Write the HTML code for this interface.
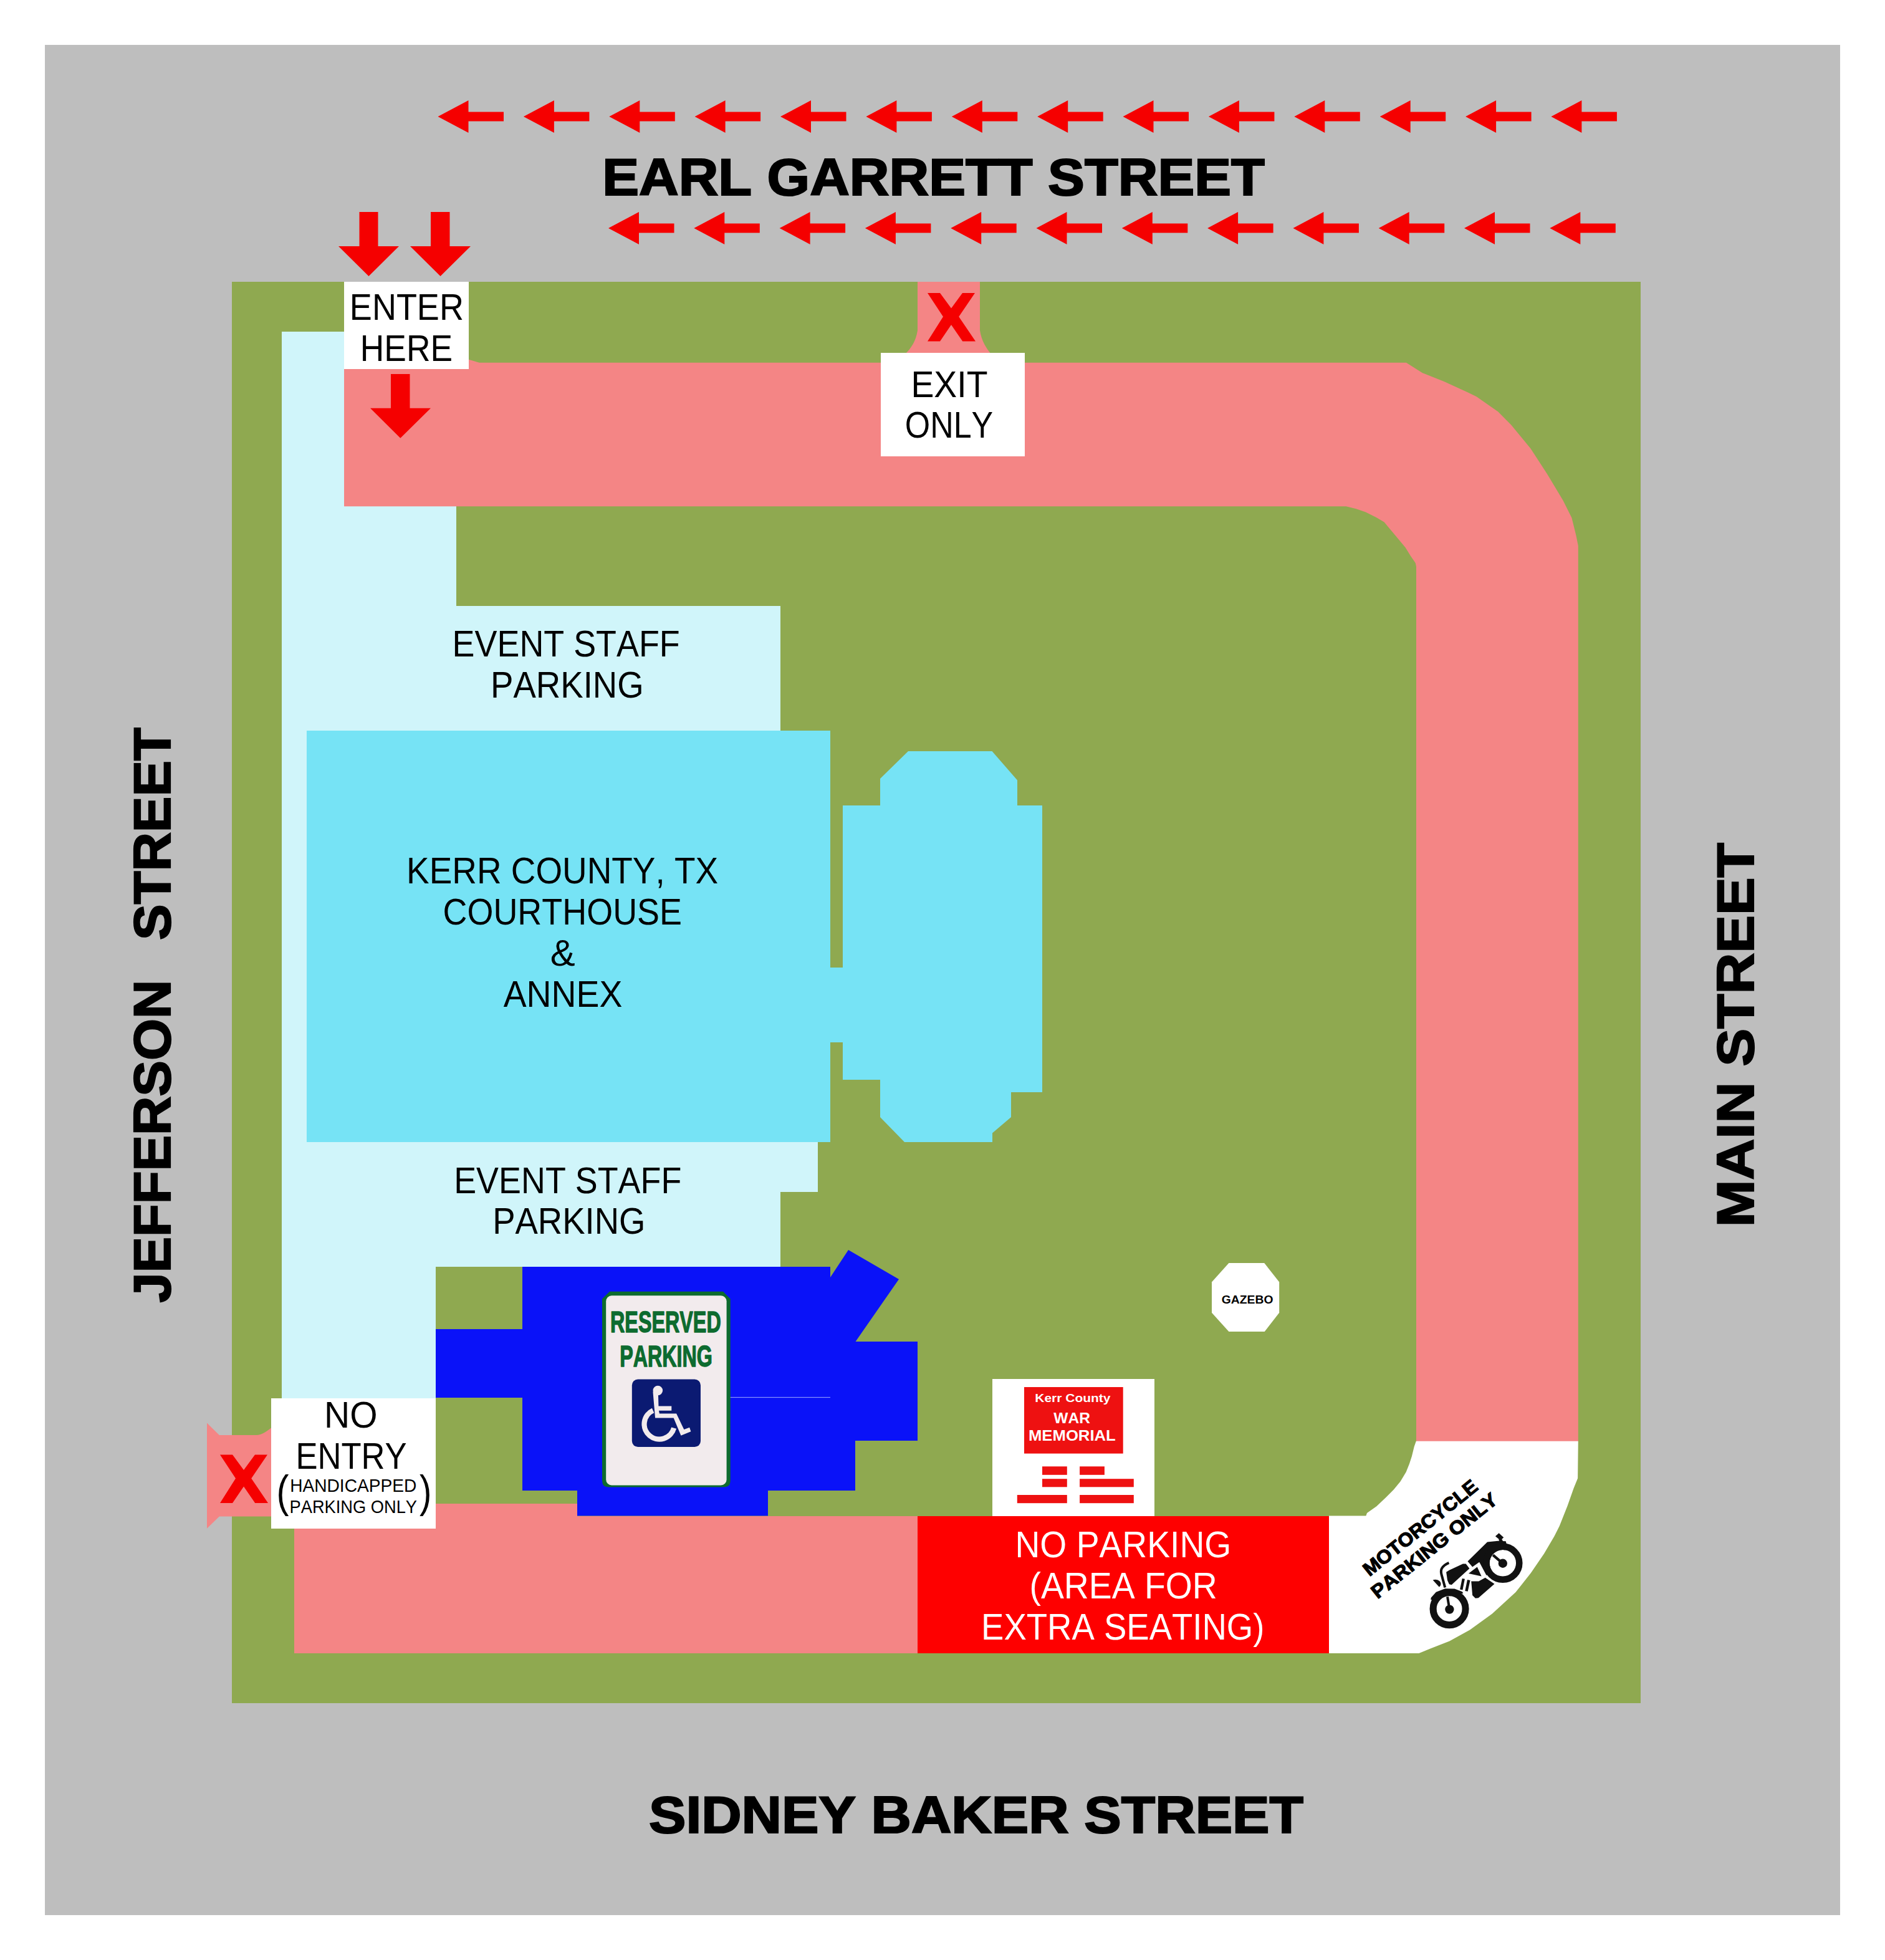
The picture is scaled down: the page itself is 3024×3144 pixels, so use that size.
<!DOCTYPE html>
<html><head><meta charset="utf-8"><title>Map</title>
<style>
html,body{margin:0;padding:0;background:#fff;overflow:hidden;}
svg{display:block;}
text{font-family:"Liberation Sans",sans-serif;font-kerning:none;}
</style></head>
<body>
<svg width="3024" height="3144" viewBox="0 0 3024 3144">
<rect x="0" y="0" width="3024" height="3144" fill="#ffffff"/>
<!-- gray streets -->
<rect x="72" y="72" width="2880" height="3000" fill="#bebebe"/>
<!-- green block -->
<rect x="372" y="452" width="2260" height="2280" fill="#8fa950"/>
<!-- light cyan parking -->
<path id="lcyan" fill="#d0f5fa" d="M452,532 H552 V812 H732 V972 H1252 V1832 H1312 V1912 H1252 V2032 H699 V2243 H452 Z"/>
<!-- pink road top/right -->
<path id="pinkroad" fill="#f48585" d="M552,581.7 L752,581.7 L752,576.7 L769,581.7 L2256,581.7 L2282,598.2 L2316.7,612 L2354.9,629.4 L2368.7,636.3 L2403.4,660.6 L2424.2,681.4 L2455.5,719.6 L2481.5,759.4 L2507.5,802.8 L2521.4,830.6 L2528.3,858.3 L2531.8,875.6 V2312 H2272 L2272,908.8 L2270.7,902.9 L2263.1,891.9 L2254.6,878.3 L2241.9,863 L2229.1,847.7 L2220.6,837.5 L2207.9,829.9 L2190.9,821.4 L2175.7,816.3 L2159.5,812.2 H552 Z"/>
<!-- exit neck -->
<path fill="#f48585" d="M1472,452 H1572 V530 C1575,548 1582,558 1590,568 H1452 C1462,558 1469,548 1472,530 Z"/>
<!-- pink bottom road -->
<path fill="#f48585" d="M472,2412 H926 V2432 H2132 V2652 H472 Z"/>
<!-- no entry ribbon -->
<path fill="#f48585" d="M332,2282.6 L351.8,2302.1 H411 C420,2302 428,2296 435,2290.5 V2432.6 H351.8 L332,2451.7 Z"/>
<!-- building -->
<rect x="492" y="1172" width="840" height="660" fill="#76e3f5"/>
<rect x="1332" y="1552" width="20" height="120" fill="#76e3f5"/>
<path fill="#76e3f5" d="M1352,1292 H1412 V1249 L1457,1205 H1591.5 L1632,1251.5 V1292 H1672 V1752 H1622 V1792 L1592,1817.5 V1832 H1451 L1412,1792 V1732 H1352 Z"/>
<!-- blue handicapped -->
<path fill="#0a12f8" d="M838,2032 H1332 V2049 L1361,2005 L1442,2052 L1372.5,2152 H1472 V2311 H1372 V2391 H1232 V2431.5 H926 V2391 H838 V2242 H699 V2132 H838 Z"/>
<!-- red no parking -->
<rect x="1472" y="2432" width="660" height="220" fill="#fe0000"/>
<!-- motorcycle white -->
<path fill="#ffffff" d="M2272,2311.8 H2531.8 L2531.1,2371.2 L2524.5,2387.6 L2514.7,2415.3 L2501.7,2448 L2493.5,2464.3 L2477.2,2492.1 L2456,2523.1 L2431.5,2554.1 L2393.9,2588.4 L2358,2614.5 L2325.3,2632.5 L2295.9,2643.9 L2276.3,2652 H2132 V2431.5 L2191.4,2431.5 L2193,2427 L2208.3,2416.2 L2223.6,2401.7 L2235.8,2389.5 L2246.5,2376.5 L2255.7,2361.2 L2261,2348.1 L2264.9,2335.9 L2268.7,2320.6 L2271.8,2311.8 Z"/>
<!-- white label boxes -->
<rect x="552" y="452" width="200" height="140" fill="#ffffff"/>
<rect x="1413" y="566" width="231" height="166" fill="#ffffff"/>
<rect x="435" y="2243" width="264" height="209" fill="#ffffff"/>
<rect x="1592" y="2212" width="260" height="220" fill="#ffffff"/>
<!-- gazebo -->
<path fill="#ffffff" d="M1971.4,2026 H2028.2 L2052.2,2056.5 V2105.7 L2028.7,2136 H1971.4 L1944,2105.7 V2056.5 Z"/>
<!-- arrows -->
<path fill="#f50000" d="M702.5,187 L751.5,161 V179.5 H808.0 V194.5 H751.5 V213 Z M839.9,187 L888.9,161 V179.5 H945.4 V194.5 H888.9 V213 Z M977.3,187 L1026.3,161 V179.5 H1082.8 V194.5 H1026.3 V213 Z M1114.6,187 L1163.6,161 V179.5 H1220.1 V194.5 H1163.6 V213 Z M1252.0,187 L1301.0,161 V179.5 H1357.5 V194.5 H1301.0 V213 Z M1389.4,187 L1438.4,161 V179.5 H1494.9 V194.5 H1438.4 V213 Z M1526.8,187 L1575.8,161 V179.5 H1632.3 V194.5 H1575.8 V213 Z M1664.2,187 L1713.2,161 V179.5 H1769.7 V194.5 H1713.2 V213 Z M1801.5,187 L1850.5,161 V179.5 H1907.0 V194.5 H1850.5 V213 Z M1938.9,187 L1987.9,161 V179.5 H2044.4 V194.5 H1987.9 V213 Z M2076.3,187 L2125.3,161 V179.5 H2181.8 V194.5 H2125.3 V213 Z M2213.7,187 L2262.7,161 V179.5 H2319.2 V194.5 H2262.7 V213 Z M2351.1,187 L2400.1,161 V179.5 H2456.6 V194.5 H2400.1 V213 Z M2488.4,187 L2537.4,161 V179.5 H2593.9 V194.5 H2537.4 V213 Z M976.0,366 L1025.0,340 V358.5 H1081.5 V373.5 H1025.0 V392 Z M1113.3,366 L1162.3,340 V358.5 H1218.8 V373.5 H1162.3 V392 Z M1250.6,366 L1299.6,340 V358.5 H1356.1 V373.5 H1299.6 V392 Z M1387.9,366 L1436.9,340 V358.5 H1493.4 V373.5 H1436.9 V392 Z M1525.2,366 L1574.2,340 V358.5 H1630.7 V373.5 H1574.2 V392 Z M1662.5,366 L1711.5,340 V358.5 H1768.0 V373.5 H1711.5 V392 Z M1799.8,366 L1848.8,340 V358.5 H1905.3 V373.5 H1848.8 V392 Z M1937.1,366 L1986.1,340 V358.5 H2042.6 V373.5 H1986.1 V392 Z M2074.4,366 L2123.4,340 V358.5 H2179.9 V373.5 H2123.4 V392 Z M2211.7,366 L2260.7,340 V358.5 H2317.2 V373.5 H2260.7 V392 Z M2349.0,366 L2398.0,340 V358.5 H2454.5 V373.5 H2398.0 V392 Z M2486.3,366 L2535.3,340 V358.5 H2591.8 V373.5 H2535.3 V392 Z"/>
<path fill="#f50000" d="M576.5,340 H606.5 V395 H640 L591.5,443 L543,395 H576.5 Z"/>
<path fill="#f50000" d="M691,340 H721.5 V395 H755 L706.5,443 L658,395 H691 Z"/>
<path fill="#f50000" d="M627,600 H657.5 V654.7 H691 L642.3,702.7 L594,654.7 H627 Z"/>
<!-- X marks -->
<path fill="#f50000" transform="translate(1488,470)" d="M0,0 H20 L38,24.4 L56,0 H76 L50.2,38 L77,77.6 H56.2 L38,51 L20,77.6 H0 L25,38 Z"/>
<path fill="#f50000" transform="translate(353,2333.5)" d="M0,0 H20 L38,24.4 L56,0 H76 L50.2,38 L77,77.6 H56.2 L38,51 L20,77.6 H0 L25,38 Z"/>
<rect x="1171" y="2240.9" width="161" height="1.2" fill="#8a94ff"/>
<!-- reserved parking sign -->
<path fill="#0d6b2f" d="M978,2071.8 H1160 L1171.7,2083.5 V2375 Q1171.7,2385.5 1161,2385.5 H976 Q966,2385.5 966,2375 V2083.5 Z"/>
<rect x="972.2" y="2078.3" width="193.4" height="304.2" rx="9" fill="#f2ebed"/>
<g transform="translate(1010,2208) scale(0.063662)">
<rect x="60" y="70" width="1730" height="1705" rx="150" fill="#0b1a72"/>
<g fill="#f2ebed">
<circle cx="712" cy="352" r="122"/>
<path d="M588,380 L645,1045 L1110,1045 L1295,1490 L1545,1385 L1510,1285 L1372,1337 L1180,935 L752,935 L738,860 L1057,860 L1057,745 L730,745 L722,470 Z"/>
</g>
<path d="M591.2,854.8 A380,380 0 1 0 1117,1298.4" fill="none" stroke="#f2ebed" stroke-width="130"/>
</g>
<!-- war memorial -->
<rect x="1643" y="2225" width="158.7" height="106.6" fill="#ee1111"/>
<g fill="#ee1111">
<rect x="1672" y="2352.3" width="39.8" height="13.5"/>
<rect x="1732.1" y="2352.3" width="39.8" height="13.5"/>
<rect x="1672" y="2372.2" width="39.8" height="13.1"/>
<rect x="1732.1" y="2372.2" width="86.7" height="13.1"/>
<rect x="1631.8" y="2398" width="80" height="13.2"/>
<rect x="1732.1" y="2398" width="86.7" height="13.2"/>
</g>
<!-- motorcycle icon -->
<g transform="translate(2280,2450) scale(0.09551)" fill="#111">
<circle cx="472" cy="1368" r="272" fill="none" stroke="#111" stroke-width="116"/>
<circle cx="475" cy="1378" r="75"/>
<path d="M475,1378 L440,1165" stroke="#111" stroke-width="42" fill="none"/>
<path d="M160,1215 L165,1180 L250,1085 L400,1028 L560,1030 L690,1080 L705,1110 L600,1120 L470,1110 L300,1150 L200,1220 Z"/>
<path d="M780,570 L1110,245 L1290,228 L1420,232 L1435,285 L1370,600 L1000,600 L975,585 L860,665 Z"/>
<path d="M975,580 L1095,805 L1370,600 Z"/>
<circle cx="1370" cy="600" r="222" fill="#fff"/>
<circle cx="1370" cy="600" r="277" fill="none" stroke="#111" stroke-width="110"/>
<circle cx="1370" cy="605" r="75"/>
<path d="M1370,605 L1205,465" stroke="#111" stroke-width="45" fill="none"/>
<path d="M1245,150 L1305,98 L1385,170 L1330,220 Z"/>
<path d="M1300,205 L1345,185 L1375,235 L1320,250 Z"/>
<path d="M795,775 L940,665 L1012,822 Z"/>
<path d="M840,905 L965,905 L1075,845 L1230,950 L960,1185 L910,1190 L860,1140 Z"/>
<path d="M420,750 L470,720 L700,612 L750,612 L810,690 L510,965 L470,955 L440,890 Z"/>
<path d="M688,858 L732,866 L695,1052 L650,1043 Z"/>
<path d="M775,880 L822,890 L782,1077 L736,1068 Z"/>
<path d="M465,595 Q380,630 345,690 Q325,730 340,790 L400,1010" stroke="#111" stroke-width="42" fill="none"/>
<path d="M195,885 C260,860 330,900 330,950 C330,975 315,995 300,1000 Z"/>
</g>
<text x="966.20" y="312.90" font-size="83.8" font-weight="bold" fill="#000" stroke="#000" stroke-width="2.2" stroke-linejoin="miter" textLength="1062.64" lengthAdjust="spacingAndGlyphs">EARL GARRETT STREET</text>
<text x="1040.93" y="2940.20" font-size="83.8" font-weight="bold" fill="#000" stroke="#000" stroke-width="2.2" stroke-linejoin="miter" textLength="1050.13" lengthAdjust="spacingAndGlyphs">SIDNEY BAKER STREET</text>
<text transform="translate(272.90,2089.41) rotate(-90)" x="0" y="0" font-size="83.8" font-weight="bold" fill="#000" stroke="#000" stroke-width="2.2" stroke-linejoin="miter" textLength="517.72" lengthAdjust="spacingAndGlyphs">JEFFERSON</text>
<text transform="translate(272.90,1507.89) rotate(-90)" x="0" y="0" font-size="83.8" font-weight="bold" fill="#000" stroke="#000" stroke-width="2.2" stroke-linejoin="miter" textLength="340.72" lengthAdjust="spacingAndGlyphs">STREET</text>
<text transform="translate(2812.50,1968.18) rotate(-90)" x="0" y="0" font-size="83.8" font-weight="bold" fill="#000" stroke="#000" stroke-width="2.2" stroke-linejoin="miter" textLength="616.26" lengthAdjust="spacingAndGlyphs">MAIN STREET</text>
<text x="560.87" y="513.00" font-size="58.3" font-weight="normal" fill="#000" textLength="183.04" lengthAdjust="spacingAndGlyphs">ENTER</text>
<text x="577.83" y="579.20" font-size="58.3" font-weight="normal" fill="#000" textLength="148.17" lengthAdjust="spacingAndGlyphs">HERE</text>
<text x="1461.46" y="636.90" font-size="58.3" font-weight="normal" fill="#000" textLength="123.01" lengthAdjust="spacingAndGlyphs">EXIT</text>
<text x="1451.84" y="702.20" font-size="58.3" font-weight="normal" fill="#000" textLength="141.40" lengthAdjust="spacingAndGlyphs">ONLY</text>
<text x="725.58" y="1053.40" font-size="58.3" font-weight="normal" fill="#000" textLength="365.18" lengthAdjust="spacingAndGlyphs">EVENT STAFF</text>
<text x="787.02" y="1118.80" font-size="58.3" font-weight="normal" fill="#000" textLength="245.65" lengthAdjust="spacingAndGlyphs">PARKING</text>
<text x="652.10" y="1417.00" font-size="58.3" font-weight="normal" fill="#000" textLength="499.95" lengthAdjust="spacingAndGlyphs">KERR COUNTY, TX</text>
<text x="710.56" y="1483.20" font-size="58.3" font-weight="normal" fill="#000" textLength="383.46" lengthAdjust="spacingAndGlyphs">COURTHOUSE</text>
<text x="807.69" y="1615.30" font-size="58.3" font-weight="normal" fill="#000" textLength="190.67" lengthAdjust="spacingAndGlyphs">ANNEX</text>
<text x="728.18" y="1913.70" font-size="58.3" font-weight="normal" fill="#000" textLength="365.18" lengthAdjust="spacingAndGlyphs">EVENT STAFF</text>
<text x="790.23" y="1979.00" font-size="58.3" font-weight="normal" fill="#000" textLength="245.14" lengthAdjust="spacingAndGlyphs">PARKING</text>
<text x="520.12" y="2290.00" font-size="58.3" font-weight="normal" fill="#000" textLength="85.50" lengthAdjust="spacingAndGlyphs">NO</text>
<text x="474.39" y="2356.30" font-size="58.3" font-weight="normal" fill="#000" textLength="178.27" lengthAdjust="spacingAndGlyphs">ENTRY</text>
<text x="465.19" y="2393.00" font-size="29.7" font-weight="normal" fill="#000" textLength="203.15" lengthAdjust="spacingAndGlyphs">HANDICAPPED</text>
<text x="464.56" y="2426.90" font-size="29.7" font-weight="normal" fill="#000" textLength="204.43" lengthAdjust="spacingAndGlyphs">PARKING ONLY</text>
<text x="1628.47" y="2498.30" font-size="58.3" font-weight="normal" fill="#fff" textLength="346.86" lengthAdjust="spacingAndGlyphs">NO PARKING</text>
<text x="1651.47" y="2564.00" font-size="58.3" font-weight="normal" fill="#fff" textLength="301.20" lengthAdjust="spacingAndGlyphs">(AREA FOR</text>
<text x="1574.03" y="2629.60" font-size="58.3" font-weight="normal" fill="#fff" textLength="454.35" lengthAdjust="spacingAndGlyphs">EXTRA SEATING)</text>
<text x="1660.30" y="2248.80" font-size="19.1" font-weight="bold" fill="#fff" textLength="121.22" lengthAdjust="spacingAndGlyphs">Kerr County</text>
<text x="1690.28" y="2282.70" font-size="23.8" font-weight="bold" fill="#fff" textLength="58.63" lengthAdjust="spacingAndGlyphs">WAR</text>
<text x="1649.98" y="2310.90" font-size="23.8" font-weight="bold" fill="#fff" textLength="139.81" lengthAdjust="spacingAndGlyphs">MEMORIAL</text>
<text x="1959.81" y="2090.70" font-size="19.0" font-weight="bold" fill="#000" textLength="82.60" lengthAdjust="spacingAndGlyphs">GAZEBO</text>
<text transform="translate(443.58,2416.73) scale(0.5997,0.7181)" x="0" y="0" font-size="100" font-weight="normal" fill="#000">(</text>
<text transform="translate(672.96,2416.73) scale(0.5846,0.7181)" x="0" y="0" font-size="100" font-weight="normal" fill="#000">)</text>
<text transform="translate(2285.70,2459.15) rotate(-38.74)" x="-113.32" y="-0.60" font-size="30.66" font-weight="bold" fill="#000" stroke="#000" stroke-width="1.2" stroke-linejoin="miter" textLength="225.76" lengthAdjust="spacingAndGlyphs">MOTORCYCLE</text>
<text transform="translate(2308.40,2487.50) rotate(-38.74)" x="-125.58" y="-0.60" font-size="30.66" font-weight="bold" fill="#000" stroke="#000" stroke-width="1.2" stroke-linejoin="miter" textLength="249.50" lengthAdjust="spacingAndGlyphs">PARKING ONLY</text>
<text transform="translate(979.04,2136.83) scale(0.3230,0.4830)" x="0" y="0" font-size="100" font-weight="bold" fill="#0d6b2f" stroke="#0d6b2f" stroke-width="3" stroke-linejoin="round">RESERVED</text>
<text transform="translate(994.14,2192.33) scale(0.3228,0.4802)" x="0" y="0" font-size="100" font-weight="bold" fill="#0d6b2f" stroke="#0d6b2f" stroke-width="3" stroke-linejoin="round">PARKING</text>
<text x="882.69" y="1549.10" font-size="58.3" font-weight="normal" fill="#000" textLength="39.94" lengthAdjust="spacingAndGlyphs">&amp;</text>
</svg>
</body></html>
